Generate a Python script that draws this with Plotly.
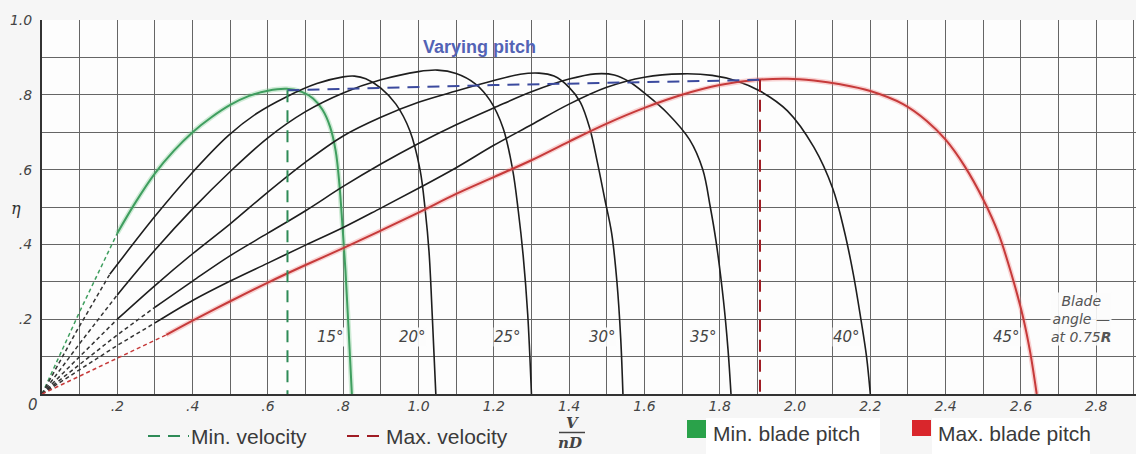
import plotly.graph_objects as go

# blade angle curves: efficiency eta vs advance ratio V/nD
c15_x = [0, 0.1, 0.2, 0.25, 0.3, 0.35, 0.4, 0.45, 0.5, 0.55, 0.6, 0.65, 0.69, 0.72, 0.745, 0.765, 0.78, 0.79, 0.798, 0.806, 0.814, 0.823]
c15_y = [0, 0.22, 0.43, 0.515, 0.59, 0.65, 0.70, 0.74, 0.773, 0.797, 0.811, 0.816, 0.808, 0.79, 0.76, 0.715, 0.65, 0.56, 0.45, 0.33, 0.18, 0]

c20_x = [0, 0.09, 0.18, 0.3, 0.393, 0.494, 0.57, 0.65, 0.73, 0.80, 0.83, 0.86, 0.9, 0.94, 0.977, 1.004, 1.018, 1.028, 1.037, 1.046]
c20_y = [0, 0.165, 0.32, 0.475, 0.585, 0.69, 0.75, 0.795, 0.83, 0.848, 0.85, 0.843, 0.818, 0.775, 0.704, 0.60, 0.49, 0.38, 0.20, 0]

c25_x = [0, 0.1, 0.2, 0.3, 0.4, 0.5, 0.6, 0.7, 0.8, 0.9, 1.0, 1.05, 1.1, 1.15, 1.19, 1.225, 1.25, 1.265, 1.278, 1.29, 1.30]
c25_y = [0, 0.135, 0.265, 0.385, 0.495, 0.595, 0.685, 0.755, 0.805, 0.84, 0.862, 0.866, 0.857, 0.83, 0.785, 0.71, 0.60, 0.49, 0.37, 0.214, 0]

c30_x = [0, 0.1, 0.2, 0.3, 0.4, 0.5, 0.6, 0.7, 0.8, 0.9, 1.0, 1.1, 1.2, 1.27, 1.32, 1.36, 1.40, 1.43, 1.455, 1.475, 1.495, 1.513, 1.527, 1.537, 1.543]
c30_y = [0, 0.1, 0.2, 0.29, 0.375, 0.455, 0.54, 0.62, 0.69, 0.74, 0.78, 0.81, 0.838, 0.855, 0.858, 0.85, 0.82, 0.78, 0.71, 0.62, 0.52, 0.43, 0.3, 0.15, 0]

c35_x = [0, 0.1, 0.2, 0.3, 0.4, 0.5, 0.6, 0.7, 0.8, 0.9, 1.0, 1.1, 1.2, 1.3, 1.4, 1.47, 1.52, 1.56, 1.606, 1.66, 1.72, 1.755, 1.775, 1.79, 1.81, 1.822, 1.83]
c35_y = [0, 0.08, 0.158, 0.232, 0.302, 0.37, 0.43, 0.49, 0.555, 0.615, 0.67, 0.72, 0.765, 0.808, 0.842, 0.856, 0.853, 0.835, 0.80, 0.752, 0.68, 0.60, 0.50, 0.41, 0.25, 0.12, 0]

c40_x = [0, 0.1, 0.2, 0.3, 0.4, 0.5, 0.6, 0.7, 0.8, 0.9, 1.0, 1.1, 1.2, 1.3, 1.4, 1.5, 1.6, 1.7, 1.78, 1.845, 1.907, 1.98, 2.05, 2.10, 2.13, 2.155, 2.175, 2.19, 2.2]
c40_y = [0, 0.065, 0.13, 0.19, 0.25, 0.302, 0.35, 0.398, 0.445, 0.497, 0.55, 0.605, 0.665, 0.72, 0.775, 0.82, 0.847, 0.856, 0.852, 0.837, 0.81, 0.757, 0.66, 0.55, 0.44, 0.32, 0.2, 0.1, 0]

c45_x = [0, 0.1, 0.2, 0.33, 0.4, 0.5, 0.6, 0.7, 0.8, 0.9, 1.0, 1.1, 1.2, 1.3, 1.4, 1.5, 1.6, 1.7, 1.8, 1.9, 1.98, 2.05, 2.12, 2.2, 2.287, 2.35, 2.4, 2.45, 2.5, 2.54, 2.575, 2.606, 2.625, 2.642]
c45_y = [0, 0.048, 0.097, 0.158, 0.196, 0.248, 0.298, 0.345, 0.39, 0.437, 0.485, 0.535, 0.58, 0.625, 0.675, 0.723, 0.765, 0.80, 0.826, 0.84, 0.843, 0.838, 0.828, 0.81, 0.775, 0.73, 0.68, 0.61, 0.52, 0.43, 0.32, 0.204, 0.11, 0]

# where the dashed (extrapolated) part of each curve ends
dash_end = [0.2, 0.18, 0.2, 0.2, 0.3, 0.3, 0.33]
angle_labels = ["15°", "20°", "25°", "30°", "35°", "40°", "45°"]
label_x = [0.765, 0.985, 1.236, 1.488, 1.758, 2.138, 2.563]
label_y = 0.152

# varying pitch envelope and velocity limits
vp_x = [0.652, 1.2, 1.907]
vp_y = [0.812, 0.826, 0.84]
min_vel_x = 0.652
min_vel_top = 0.812
max_vel_x = 1.907
max_vel_top = 0.84

x_ticks = [0.2, 0.4, 0.6, 0.8, 1.0, 1.2, 1.4, 1.6, 1.8, 2.0, 2.2, 2.4, 2.6, 2.8]
x_tick_text = [".2", ".4", ".6", ".8", "1.0", "1.2", "1.4", "1.6", "1.8", "2.0", "2.2", "2.4", "2.6", "2.8"]
y_ticks = [0.2, 0.4, 0.6, 0.8, 1.0]
y_tick_text = [".2", ".4", ".6", ".8", "1.0"]

curves = [(c15_x, c15_y), (c20_x, c20_y), (c25_x, c25_y), (c30_x, c30_y),
          (c35_x, c35_y), (c40_x, c40_y), (c45_x, c45_y)]
colors = ["#3f9e5f", "#1e1e1e", "#1e1e1e", "#1e1e1e", "#1e1e1e", "#1e1e1e", "#c63a3a"]

W, H = 1136, 454
L, R, T, B = 42, 0, 20, 60
pw, ph = W - L - R, H - T - B


def px(x):
    return (x - L) / pw


def py(y):
    return (H - B - y) / ph


fig = go.Figure()

for i, (xs, ys) in enumerate(curves):
    de = dash_end[i]
    dx = [x for x in xs if x <= de]
    dy = ys[:len(dx)]
    sx = [x for x in xs if x >= de]
    sy = ys[len(xs) - len(sx):]
    col = colors[i]
    dcol = col if i in (0, 6) else "#333333"
    fig.add_trace(go.Scatter(x=dx, y=dy, mode="lines",
                             line=dict(color=dcol, width=1.5, dash="4px,3px"),
                             showlegend=False, hoverinfo="skip"))
    if i == 6:
        fig.add_trace(go.Scatter(x=sx, y=sy, mode="lines",
                                 line=dict(color="rgba(240,130,130,0.35)", width=5, shape="spline", smoothing=1),
                                 showlegend=False, hoverinfo="skip"))
    if i == 0:
        fig.add_trace(go.Scatter(x=sx, y=sy, mode="lines",
                                 line=dict(color="rgba(120,200,140,0.35)", width=5, shape="spline", smoothing=1),
                                 showlegend=False, hoverinfo="skip"))
    fig.add_trace(go.Scatter(x=sx, y=sy, mode="lines",
                             line=dict(color=col, width=2 if i in (0, 6) else 1.6, shape="spline", smoothing=1),
                             name=angle_labels[i], showlegend=False))

# varying pitch (blue dashed)
fig.add_trace(go.Scatter(x=vp_x, y=vp_y, mode="lines",
                         line=dict(color="#3b4a9e", width=2, dash="12px,8px"),
                         showlegend=False, hoverinfo="skip"))
# min / max velocity verticals
fig.add_trace(go.Scatter(x=[min_vel_x, min_vel_x], y=[min_vel_top, 0], mode="lines",
                         line=dict(color="#2e8b57", width=2, dash="12px,8px"),
                         showlegend=False, hoverinfo="skip"))
fig.add_trace(go.Scatter(x=[max_vel_x, max_vel_x], y=[max_vel_top, 0], mode="lines",
                         line=dict(color="#a01c24", width=2, dash="12px,8px"),
                         showlegend=False, hoverinfo="skip"))

ann = []
lab_font = dict(family="DejaVu Sans", size=15, color="#444444")
blade_font = dict(family="DejaVu Sans", size=14, color="#555555")
for t, x in zip(angle_labels, label_x):
    ann.append(dict(x=x, y=label_y, text="<i>" + t + "</i>", showarrow=False,
                    font=lab_font, bgcolor="rgba(252,252,252,0.9)", borderpad=0))

ann.append(dict(x=2.76, y=0.2, text="<i>Blade<br>angle —<br>at 0.75<b>R</b></i>", showarrow=False,
                font=blade_font, align="center", bgcolor="rgba(252,252,252,0.9)", borderpad=0))

ann.append(dict(x=1.163, y=0.927, text="<b>Varying pitch</b>", showarrow=False,
                font=dict(family="Liberation Sans", size=18, color="#5363b5")))


def paper_note(x, y, text, font, xanchor="center"):
    return dict(xref="paper", yref="paper", x=px(x), y=py(y), text=text, showarrow=False,
                xanchor=xanchor, yanchor="middle", font=font)


ann.append(paper_note(16, 208, "<i>η</i>", dict(family="DejaVu Serif", size=16, color="#333333")))
ann.append(paper_note(33, 405, "<i>0</i>", dict(family="DejaVu Sans", size=15, color="#444444")))

leg_font = dict(family="Liberation Sans", size=21, color="#3a3a3a")
ann.append(paper_note(189, 436, "Min. velocity", leg_font, "left"))
ann.append(paper_note(384, 436, "Max. velocity", leg_font, "left"))
ann.append(paper_note(711, 433, "Min. blade pitch", leg_font, "left"))
ann.append(paper_note(936, 433, "Max. blade pitch", leg_font, "left"))
vfont = dict(family="DejaVu Serif", size=15, color="#444444")
ann.append(paper_note(572, 423, "<b><i>V</i></b>", vfont))
ann.append(paper_note(570, 443, "<b><i>nD</i></b>", vfont))

shapes = [
    dict(type="rect", xref="paper", yref="paper", x0=px(706), x1=px(880), y0=py(454), y1=py(418),
         fillcolor="white", line=dict(width=0), layer="below"),
    dict(type="rect", xref="paper", yref="paper", x0=px(932), x1=px(1090), y0=py(454), y1=py(418),
         fillcolor="white", line=dict(width=0), layer="below"),
    dict(type="line", xref="paper", yref="paper", x0=px(148), x1=px(189), y0=py(436), y1=py(436),
         line=dict(color="#2e8b57", width=2, dash="12px,8px")),
    dict(type="line", xref="paper", yref="paper", x0=px(347), x1=px(384), y0=py(436), y1=py(436),
         line=dict(color="#a01c24", width=2, dash="12px,8px")),
    dict(type="line", xref="paper", yref="paper", x0=px(559), x1=px(585), y0=py(432.5), y1=py(432.5),
         line=dict(color="#444444", width=1.5)),
    dict(type="rect", xref="paper", yref="paper", x0=px(687), x1=px(706), y0=py(438), y1=py(420),
         fillcolor="#2aa24a", line=dict(width=0)),
    dict(type="rect", xref="paper", yref="paper", x0=px(912), x1=px(931), y0=py(436), y1=py(420),
         fillcolor="#d9262c", line=dict(width=0)),
]

grid = dict(color="#666666", width=1.3)
tick_font = dict(family="DejaVu Sans", size=14, color="#444444")
fig.update_layout(
    width=W, height=H,
    margin=dict(l=L, r=R, t=T, b=B),
    paper_bgcolor="#f6f6f6", plot_bgcolor="#fdfdfd",
    annotations=ann, shapes=shapes,
    xaxis=dict(range=[0, pw / 376.5], tickmode="array", tickvals=x_ticks,
               ticktext=["<i>" + t + "</i>" for t in x_tick_text],
               showgrid=True, gridcolor=grid["color"], gridwidth=grid["width"],
               minor=dict(tick0=0, dtick=0.1, showgrid=True, gridcolor=grid["color"], gridwidth=grid["width"]),
               showline=True, linecolor="#333333", linewidth=2, zeroline=False,
               tickfont=tick_font, ticklabelstandoff=-2, automargin=False, fixedrange=True),
    yaxis=dict(range=[0, 1.0], tickmode="array", tickvals=y_ticks,
               ticktext=["<i>" + t + "</i>" for t in y_tick_text],
               showgrid=True, gridcolor=grid["color"], gridwidth=grid["width"],
               minor=dict(tick0=0, dtick=0.1, showgrid=True, gridcolor=grid["color"], gridwidth=grid["width"]),
               showline=True, linecolor="#333333", linewidth=2, zeroline=False,
               tickfont=tick_font, ticklabelstandoff=5, automargin=False, fixedrange=True),
)

# page body has a default 8px margin; drop it so the figure fills the window
fig.write_html("out.html", config={"displayModeBar": False},
               post_script="document.body.style.margin='0';")
